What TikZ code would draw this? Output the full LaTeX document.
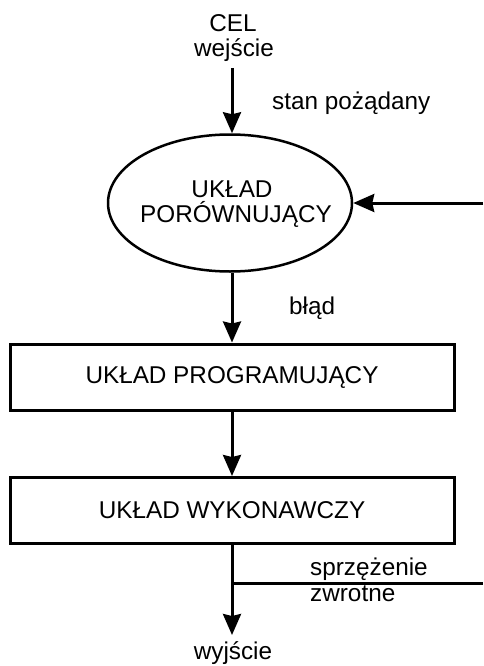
\documentclass[tikz,border=0pt]{standalone}
\usepackage{fontspec}
\setmainfont{Liberation Sans}
\usetikzlibrary{arrows.meta,shapes.geometric}

\tikzset{
  txt/.style={font=\fontsize{24.3}{25}\selectfont, inner sep=0pt},
  block/.style={draw, line width=3pt, rectangle, minimum width=444pt,
    minimum height=66pt, inner sep=0pt, txt},
  cmp/.style={draw, line width=2.5pt, ellipse, minimum width=244pt,
    minimum height=137pt, inner sep=0pt},
  flow/.style={line width=3pt, -{Stealth[width=18pt,length=21pt,inset=2pt]}},
  wire/.style={line width=3pt}
}

\begin{document}
\begin{tikzpicture}[x=1pt,y=-1pt]
  \useasboundingbox (0,0) rectangle (483,666);

  % input labels
  \node[txt, anchor=base] (cel) at (233,32) {CEL};
  \node[txt, anchor=base] (wej) at (234,57) {wejście};
  \coordinate (inTop) at (232,68);
  \node[txt, anchor=base west] (stan) at (272,110) {stan pożądany};

  % comparator: outline and its two-line caption
  \node[cmp] (ell) at (230,203) {};
  \node[txt, anchor=base] (ellA) at (232,197) {UKŁAD};
  \node[txt, anchor=base] (ellB) at (236,222) {PORÓWNUJĄCY};

  % programming and executing blocks
  \node[block] (prog) at (232,377) {UKŁAD PROGRAMUJĄCY};
  \node[block] (exec) at (232,510.5) {UKŁAD WYKONAWCZY};

  \node[txt, anchor=base west] (blad) at (289,314) {błąd};

  % output and feedback
  \coordinate (outEnd) at (232,635);
  \coordinate (fbJoin) at (232,583);
  \coordinate (fbRight) at (483,583);
  \coordinate (fbIn) at (483,203);
  \node[txt, anchor=base west] (sprz) at (310,575) {sprzężenie};
  \node[txt, anchor=base west] (zwr) at (310,601) {zwrotne};
  \node[txt, anchor=base] (wyj) at (233,659) {wyjście};

  % connectors
  \draw[flow] (inTop) -- (inTop |- ell.north);
  \draw[flow] (inTop |- ell.south) -- (prog.north);
  \draw[flow] (prog.south) -- (exec.north);
  \draw[flow] (exec.south) -- (outEnd);
  \draw[wire] (fbJoin) -- (fbRight);
  \draw[flow] (fbIn) -- (ell.east);
\end{tikzpicture}
\end{document}
